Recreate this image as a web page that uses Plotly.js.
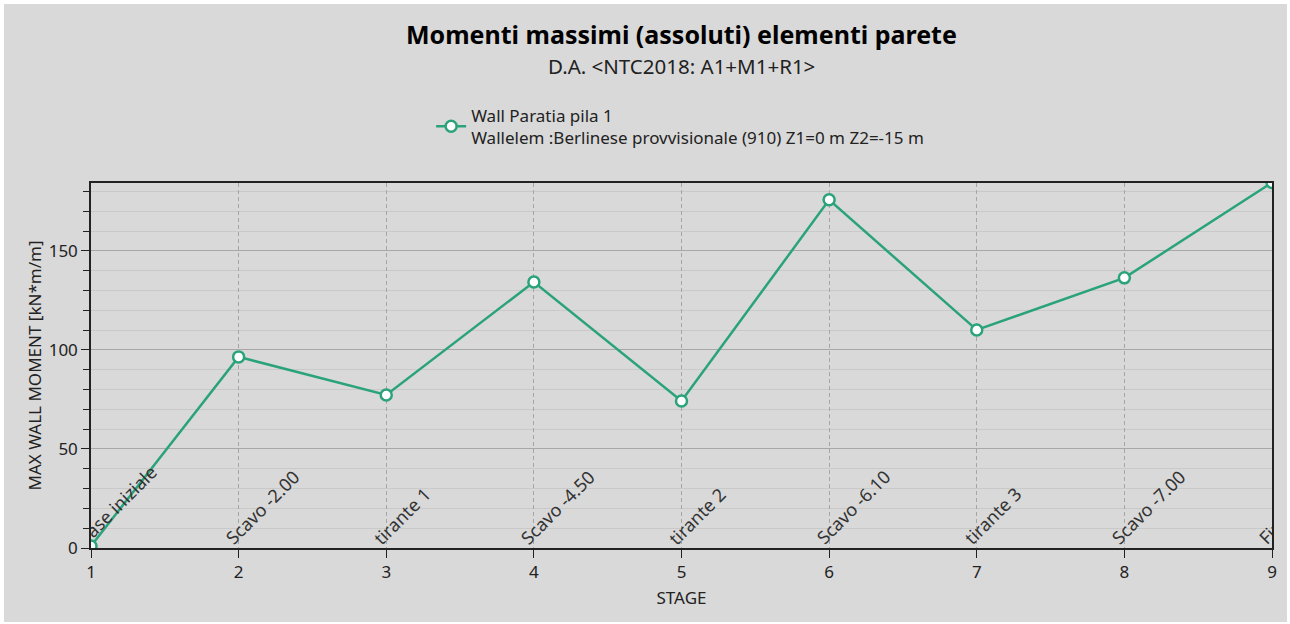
<!DOCTYPE html>
<html>
<head>
<meta charset="utf-8">
<script src="https://cdn.plot.ly/plotly-3.0.1.min.js"></script>
<style>
    body { margin: 0; background: #ffffff; }
    #plot { position: absolute; left: 4px; top: 4px; width: 1283px; height: 618px; }
</style>
</head>
<body>
<div id="plot"></div>
<script>
// stages and max wall moments
let stages = [1, 2, 3, 4, 5, 6, 7, 8, 9];
let stageNames = ["Fase iniziale", "Scavo -2.00", "tirante 1", "Scavo -4.50", "tirante 2", "Scavo -6.10", "tirante 3", "Scavo -7.00", "Fine"];
let moment = [1, 96.5, 77.3, 134.3, 74.2, 175.8, 110.1, 136.4, 184.5];

let green = "#2aa37b";
let font = "Noto Sans, Open Sans, sans-serif";

let trace = {
    x: stages,
    y: moment,
    type: "scatter",
    mode: "lines+markers",
    name: "Wall Paratia pila 1<br>Wallelem :Berlinese provvisionale (910) Z1=0 m Z2=-15 m",
    line: { color: green, width: 2.5 },
    marker: { size: 11, color: "#ffffff", line: { color: green, width: 2.5 } },
    showlegend: true
};

let annotations = stageNames.map((s, i) => ({
    x: stages[i], y: 0, xref: "x", yref: "y",
    text: s, textangle: -45, showarrow: false,
    xanchor: "left", yanchor: "bottom", xshift: -21, yshift: -4,
    font: { family: font, size: 18, color: "#333333" }
}));

// title and subtitle
annotations.push({
    xref: "paper", yref: "paper", x: 0.5, y: 1.0, yshift: 179 - 35 + 5,
    text: "<b>Momenti massimi (assoluti) elementi parete</b>", showarrow: false,
    xanchor: "center", yanchor: "middle",
    font: { family: font, size: 25, color: "#000000" }
});
annotations.push({
    xref: "paper", yref: "paper", x: 0.5, y: 1.0, yshift: 179 - 67 + 5,
    text: "D.A. &lt;NTC2018: A1+M1+R1&gt;", showarrow: false,
    xanchor: "center", yanchor: "middle",
    font: { family: font, size: 20.5, color: "#222222" }
});

let layout = {
    paper_bgcolor: "#d9d9d9",
    plot_bgcolor: "#d9d9d9",
    margin: { l: 87, r: 15, t: 179, b: 74 },
    font: { family: font, size: 17, color: "#222222" },
    showlegend: true,
    legend: {
        x: 0.288, y: 1.234, xanchor: "left", yanchor: "top",
        bgcolor: "rgba(0,0,0,0)", font: { family: font, size: 17, color: "#222222" },
        itemwidth: 30
    },
    xaxis: {
        range: [1, 9], dtick: 1, tick0: 1,
        showline: true, linecolor: "#222222", linewidth: 1.5, mirror: true,
        ticks: "outside", ticklen: 8, tickcolor: "#222222",
        showgrid: true, gridcolor: "#a6a6a6", griddash: "4px,3px", gridwidth: 1,
        zeroline: false,
        title: { text: "STAGE", font: { family: font, size: 17, color: "#222222" }, standoff: 10 }
    },
    yaxis: {
        range: [0, 184.3], dtick: 50, tick0: 0,
        showline: true, linecolor: "#222222", linewidth: 1.5, mirror: true,
        ticks: "outside", ticklen: 8, tickcolor: "#222222",
        showgrid: true, gridcolor: "#a8a8a8", gridwidth: 1,
        minor: { dtick: 10, showgrid: true, gridcolor: "#c9c9c9", gridwidth: 1, ticks: "outside", ticklen: 6, tickcolor: "#222222" },
        zeroline: false,
        title: { text: "MAX WALL MOMENT [kN*m/m]", font: { family: font, size: 17, color: "#222222" }, standoff: 3 }
    },
    annotations: annotations
};

Plotly.newPlot("plot", [trace], layout, { displayModeBar: false }).then(function (gd) {
    // clip the stage labels to the plot area like the original chart
    let sz = gd._fullLayout._size;
    let svgs = document.querySelectorAll("#plot svg.main-svg");
    let svg = svgs[svgs.length - 1];
    let ns = "http://www.w3.org/2000/svg";
    let defs = document.createElementNS(ns, "defs");
    let cp = document.createElementNS(ns, "clipPath");
    cp.setAttribute("id", "stageclip");
    let r = document.createElementNS(ns, "rect");
    r.setAttribute("x", sz.l);
    r.setAttribute("y", sz.t);
    r.setAttribute("width", sz.w);
    r.setAttribute("height", sz.h);
    cp.appendChild(r);
    defs.appendChild(cp);
    svg.insertBefore(defs, svg.firstChild);
    document.querySelectorAll("#plot g.annotation").forEach(function (g, i) {
        if (i < stageNames.length) g.setAttribute("clip-path", "url(#stageclip)");
    });
});
</script>
</body>
</html>
